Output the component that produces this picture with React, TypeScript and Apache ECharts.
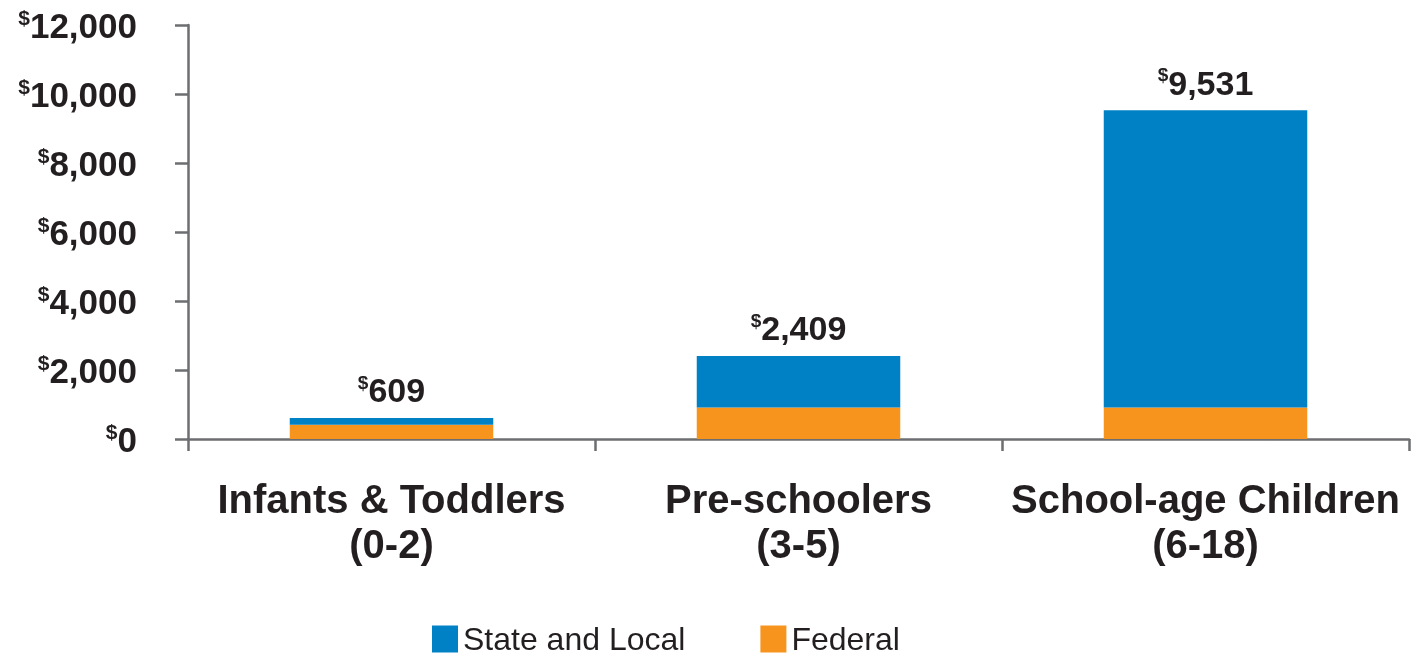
import React, { useEffect, useRef } from "react";
import * as echarts from "echarts";

const categories = ["Infants & Toddlers\n(0-2)", "Pre-schoolers\n(3-5)", "School-age Children\n(6-18)"];
const stateLocal = [199, 1499, 8621];
const federal = [410, 910, 910];
const totals = [609, 2409, 9531];
const yTicks = { min: 0, max: 12000, interval: 2000 };

const FONT = '"Liberation Sans", Arial, Helvetica, sans-serif';
const TEXT = "#231f20";
const AXIS = "#6d6e71";

export default function App() {
  const ref = useRef<HTMLDivElement>(null);
  useEffect(() => {
    if (!ref.current) return;
    const chart = echarts.init(ref.current, null, { renderer: "svg" });
    chart.setOption({
      animation: false,
      textStyle: { fontFamily: FONT, color: TEXT },
      grid: { left: 188, right: 18, top: 25, bottom: 220 },
      legend: {
        left: 427,
        top: 618,
        itemWidth: 26,
        itemHeight: 27,
        itemGap: 75,
        icon: "rect",
        textStyle: { fontFamily: FONT, fontSize: 32, color: TEXT, lineHeight: 32 },
        data: ["State and Local", "Federal"],
      },
      xAxis: {
        type: "category",
        data: categories,
        axisLine: { lineStyle: { color: AXIS, width: 2.5 } },
        axisTick: { show: true, length: 12, alignWithLabel: false, lineStyle: { color: AXIS, width: 2.5 } },
        axisLabel: {
          margin: 37,
          fontFamily: FONT,
          fontSize: 40,
          fontWeight: "bold",
          color: TEXT,
          lineHeight: 45,
          interval: 0,
        },
      },
      yAxis: {
        type: "value",
        min: yTicks.min,
        max: yTicks.max,
        interval: yTicks.interval,
        splitLine: { show: false },
        axisLine: { show: true, lineStyle: { color: AXIS, width: 2.5 } },
        axisTick: { show: true, length: 13, lineStyle: { color: AXIS, width: 2.5 } },
        axisLabel: {
          margin: 51,
          formatter: (v: number) => `{s|$}{v|${v.toLocaleString("en-US")}}`,
          rich: {
            s: { fontFamily: FONT, fontSize: 21, fontWeight: "bold", color: TEXT, verticalAlign: "top", lineHeight: 36 },
            v: { fontFamily: FONT, fontSize: 35, fontWeight: "bold", color: TEXT, lineHeight: 36 },
          },
        },
      },
      series: [
        {
          name: "Federal",
          type: "bar",
          stack: "total",
          barWidth: "50%",
          data: federal,
          itemStyle: { color: "#f7941e" },
        },
        {
          name: "State and Local",
          type: "bar",
          stack: "total",
          barWidth: "50%",
          data: stateLocal,
          itemStyle: { color: "#0081c6" },
          label: {
            show: true,
            position: "top",
            distance: 10,
            formatter: (p: any) => `{s|$}{v|${totals[p.dataIndex].toLocaleString("en-US")}}`,
            rich: {
              s: { fontFamily: FONT, fontSize: 19, fontWeight: "bold", color: TEXT, verticalAlign: "top", lineHeight: 35 },
              v: { fontFamily: FONT, fontSize: 34, fontWeight: "bold", color: TEXT, lineHeight: 35 },
            },
          },
        },
      ],
    });
    return () => chart.dispose();
  }, []);
  return (
    <div
      ref={ref}
      style={{ position: "fixed", left: 0, top: 0, width: 1427, height: 659 }}
    />
  );
}
